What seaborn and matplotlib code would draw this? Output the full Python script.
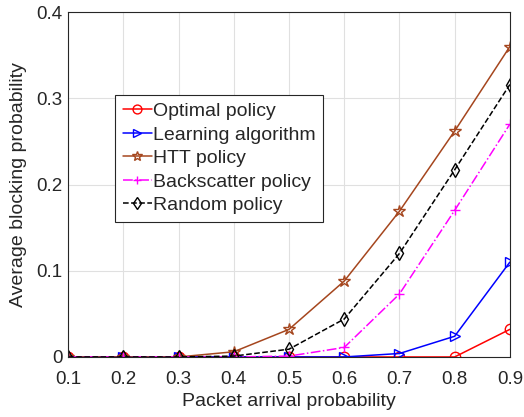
import matplotlib
matplotlib.use("Agg")
import matplotlib.pyplot as plt
import seaborn as sns
import pandas as pd

x = [0.1, 0.2, 0.3, 0.4, 0.5, 0.6, 0.7, 0.8, 0.9]
optimal = [0, 0, 0, 0, 0, 0, 0, 0, 0.032]
learning = [0, 0, 0, 0, 0, 0, 0.004, 0.024, 0.110]
htt = [0, 0, 0, 0.006, 0.032, 0.088, 0.169, 0.262, 0.360]
backscatter = [0, 0, 0, 0, 0.001, 0.011, 0.073, 0.170, 0.270]
random_pol = [0, 0, 0, 0.001, 0.009, 0.044, 0.120, 0.217, 0.316]

names = ["Optimal policy", "Learning algorithm", "HTT policy", "Backscatter policy", "Random policy"]
series = [optimal, learning, htt, backscatter, random_pol]
colors = ["#ff0000", "#0000ff", "#a5461e", "#ff00ff", "#000000"]
markers = ["o", ">", "*", "+", "d"]
linestyles = ["-", "-", "-", "-.", "--"]

sns.set_style("white")
plt.rcParams['font.family'] = ['Liberation Sans', 'DejaVu Sans']

fig = plt.figure(figsize=(5.24, 4.17), dpi=100)
ax = fig.add_axes([0.13, 0.144, 0.843, 0.827])

for n, s, c, m, ls in zip(names, series, colors, markers, linestyles):
    df = pd.DataFrame({"x": x, "y": s})
    sns.lineplot(data=df, x="x", y="y", ax=ax, color=c, marker=m, linestyle=ls,
                 linewidth=1.1, markersize=9 if m == "*" else 7.5,
                 markerfacecolor="none" if m != "+" else c,
                 markeredgecolor=c, markeredgewidth=1.0, label=n)

ax.set_xlim(0.1, 0.9)
ax.set_ylim(0, 0.4)
ax.set_xticks(x)
ax.set_xticklabels([f"{v:.1f}" for v in x])
ax.set_yticks([0, 0.1, 0.2, 0.3, 0.4])
ax.set_yticklabels(["0", "0.1", "0.2", "0.3", "0.4"])
ax.tick_params(direction="in", labelsize=13.5, length=4, color="#262626", labelcolor="#262626")
ax.tick_params(axis="x", pad=10)
ax.tick_params(axis="y", pad=4)
ax.grid(True, color="#e0e0e0", linewidth=0.8)
for sp in ax.spines.values():
    sp.set_color("#262626")
    sp.set_linewidth(0.8)
ax.set_xlabel("Packet arrival probability", fontsize=14, color="#262626", labelpad=4)
ax.set_ylabel("Average blocking probability", fontsize=14, color="#262626", labelpad=7)

leg = ax.legend(loc="upper left", bbox_to_anchor=(0.106, 0.76), fontsize=14,
                frameon=True, fancybox=False, edgecolor="#262626", framealpha=1,
                handlelength=1.5, handletextpad=0.05, borderpad=0.4, labelspacing=0.3,
                borderaxespad=0, markerscale=0.85)
leg.get_frame().set_linewidth(0.8)

fig.savefig("out.png", dpi=100)
